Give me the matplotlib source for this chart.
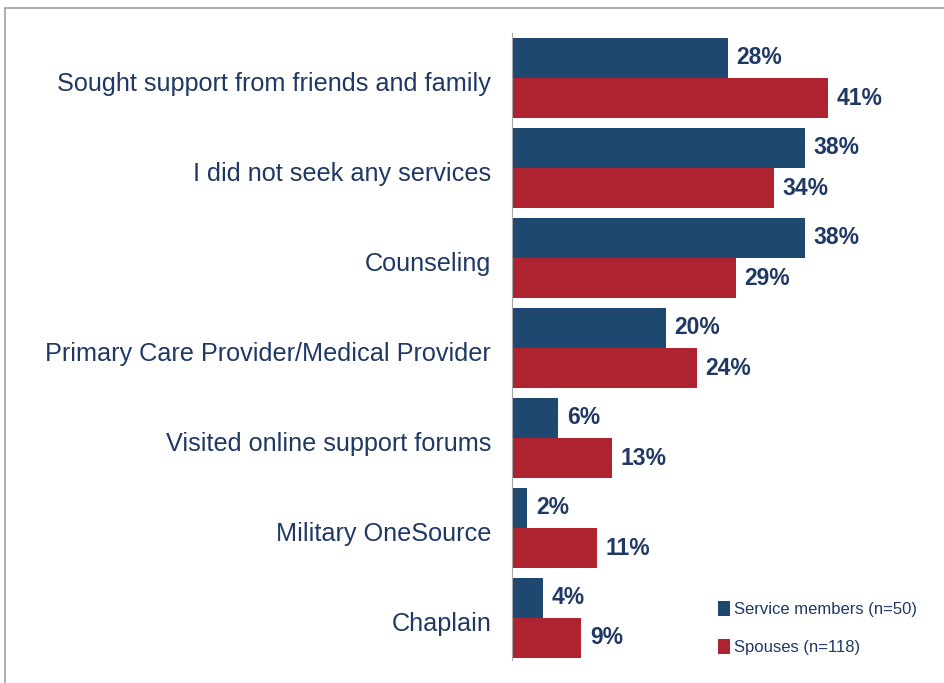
import matplotlib.pyplot as plt
from matplotlib.patches import Rectangle

categories = ['Sought support from friends and family', 'I did not seek any services',
              'Counseling', 'Primary Care Provider/Medical Provider',
              'Visited online support forums', 'Military OneSource', 'Chaplain']
service = [28, 38, 38, 20, 6, 2, 4]
spouses = [41, 34, 29, 24, 13, 11, 9]
labels = ['Service members (n=50)', 'Spouses (n=118)']

blue = '#1E4870'
red = '#AD232F'
navy = '#1F3864'
plt.rcParams['font.family'] = ['Liberation Sans', 'DejaVu Sans']

W, H = 944, 683
fig = plt.figure(figsize=(W/100, H/100), dpi=100)
ax = fig.add_axes([512/W, 1-660/H, 1-512/W, 627/H])

h = 0.445
ys = list(range(len(categories)))
ax.barh([y - h/2 for y in ys], service, height=h, color=blue, label=labels[0])
ax.barh([y + h/2 for y in ys], spouses, height=h, color=red, label=labels[1])

for y, v in zip(ys, service):
    ax.text(v + 1.1, y - h/2, f'{v}%', va='center', ha='left', fontsize=16.5,
            fontweight='bold', color=navy)
for y, v in zip(ys, spouses):
    ax.text(v + 1.1, y + h/2, f'{v}%', va='center', ha='left', fontsize=16.5,
            fontweight='bold', color=navy)

ax.set_xlim(0, 432/7.71)
ax.set_ylim(len(categories) - 1 + 0.467, -0.5)
ax.set_yticks([y + 0.04 for y in ys])
ax.set_yticklabels(categories, fontsize=18.2, color=navy)
ax.tick_params(axis='y', length=0, pad=15)
ax.set_xticks([])
for s in ['top', 'right', 'bottom']:
    ax.spines[s].set_visible(False)
ax.spines['left'].set_color('#A6A6A6')

fig.legend(loc='upper left', bbox_to_anchor=(718/W, 1-601/H), frameon=False,
           fontsize=12, labelcolor=navy, handlelength=0.7, handleheight=1.0,
           handletextpad=0.25, labelspacing=1.3, borderpad=0, borderaxespad=0)

fig.patches.append(Rectangle((5/W, -0.1), 1.1, 1 - 8/H + 0.1, transform=fig.transFigure,
                             fill=False, edgecolor='#A0A0A0', lw=1.2))
fig.savefig('out.png', dpi=100)
